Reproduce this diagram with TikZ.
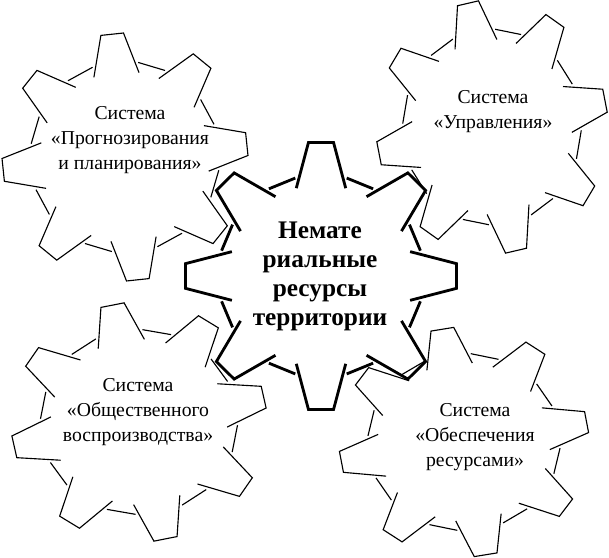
\documentclass[tikz,border=0pt]{standalone}
\usepackage{fontspec}
\setmainfont{Liberation Serif}
\usetikzlibrary{calc,positioning}

\tikzset{
	gearline/.style={black, line width=0.8pt},
	gearbold/.style={black, line width=2pt},
	syslabel/.style={draw=none,fill=none,align=center,font=\fontsize{14}{17.7}\selectfont},
	mainlabel/.style={draw=none,fill=none,align=center,font=\fontsize{18}{20.6}\selectfont\bfseries}
}

\begin{document}
\begin{tikzpicture}[x=0.025cm,y=0.025cm]
	\useasboundingbox (0,0) rectangle (609,557);
	
	% central gear
	\begin{scope}[shift={(321,281)},xscale=136,yscale=134,gearbold]
	\foreach \t in {0,45,...,315}{
		\draw (\t+15.5:0.68) -- (\t+5.3:1) -- (\t-5.3:1) -- (\t-15.5:0.68);
		\draw (\t+14.5:0.755) -- (\t+30.5:0.755);
	}
	\end{scope}
	
	% top left
	\begin{scope}[shift={(125,400)},xscale=123,yscale=124,rotate=6,gearline]
	\foreach \t in {0,45,...,315}{
		\draw (\t+15.5:0.69) -- (\t+5.3:1) -- (\t-5.3:1) -- (\t-15.5:0.69);
		\draw (\t+14:0.77) -- (\t+31:0.77);
	}
	\end{scope}
	
	% top right
	\begin{scope}[shift={(492,430)},xscale=116,yscale=127,rotate=12,gearline]
	\foreach \t in {0,45,...,315}{
		\draw (\t+15.5:0.69) -- (\t+5.3:1) -- (\t-5.3:1) -- (\t-15.5:0.69);
		\draw (\t+14:0.77) -- (\t+31:0.77);
	}
	\end{scope}
	
	% bottom left
	\begin{scope}[shift={(139,135)},xscale=128,yscale=120,rotate=12,gearline]
	\foreach \t in {0,45,...,315}{
		\draw (\t+15.5:0.69) -- (\t+5.3:1) -- (\t-5.3:1) -- (\t-15.5:0.69);
		\draw (\t+14:0.77) -- (\t+31:0.77);
	}
	\end{scope}
	
	% bottom right
	\begin{scope}[shift={(464,115)},xscale=125,yscale=115,rotate=10,gearline]
	\foreach \t in {0,45,...,315}{
		\draw (\t+15.5:0.69) -- (\t+5.3:1) -- (\t-5.3:1) -- (\t-15.5:0.69);
		\draw (\t+14:0.77) -- (\t+31:0.77);
	}
	\end{scope}
	
	\node[mainlabel] (resursy) at (320,281) {Немате\\риальные\\ресурсы\\территории};
	\node[syslabel] (prognoz) at (130,417) {Система\\«Прогнозирования\\и планирования»};
	\node[syslabel] (uprav) at (493,445) {Система\\«Управления»};
	\node[syslabel] (obshch) at (138,145) {Система\\«Общественного\\воспроизводства»};
	\node[syslabel] (obesp) at (475,120) {Система\\«Обеспечения\\ресурсами»};
\end{tikzpicture}
\end{document}
